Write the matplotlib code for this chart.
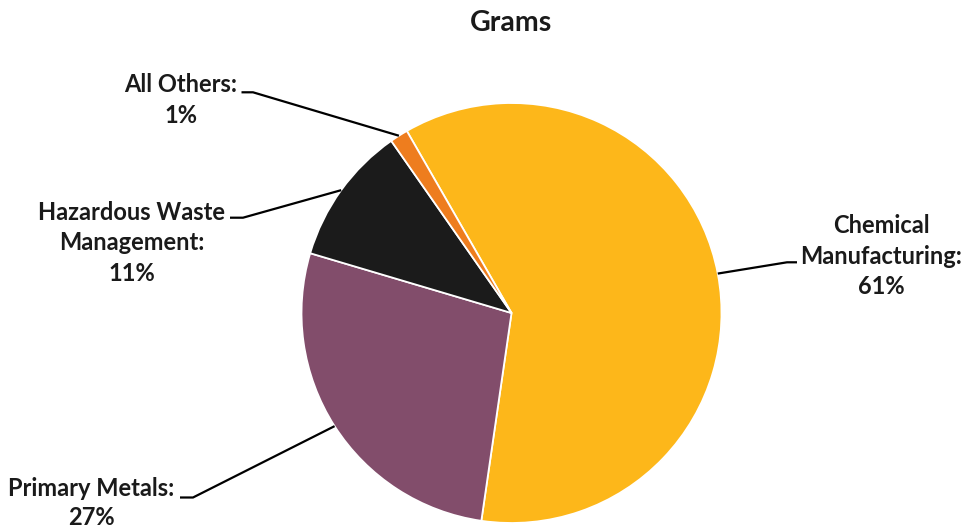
import matplotlib
matplotlib.use("Agg")
import matplotlib.pyplot as plt
import numpy as np

# Share of grams by industry sector
categories = ["Chemical\nManufacturing", "Primary Metals", "Hazardous Waste\nManagement", "All Others"]
shares = [60.6, 27.3, 10.7, 1.4]
colors = ["#FDB71A", "#824D6B", "#1B1B1B", "#EE7D1E"]

W, H = 964, 531
CX, CY, R = 511.5, 313.0, 210.0


def px(x, y):
    """Convert pixel position to axes data units (pie radius = 1)."""
    return ((x - CX) / R, (CY - y) / R)


fig = plt.figure(figsize=(W / 100, H / 100), dpi=100)
ax = fig.add_axes([0, 0, 1, 1])

wedges, _ = ax.pie(
    shares, colors=colors, startangle=119.9, counterclock=False,
    radius=1.0, center=(0, 0), frame=True,
    wedgeprops=dict(edgecolor="white", linewidth=1.3),
)
ax.set_xlim(-CX / R, (W - CX) / R)
ax.set_ylim(-(H - CY) / R, CY / R)
ax.axis("off")

font = dict(family="Lato", weight="bold", color="#1A1A1A", fontsize=17)

# label layout: text centre, elbow point, end of horizontal stub, line spacing
layout = [
    dict(text=(881, 256), elbow=(787, 262.3), stub=(797, 262.3), ls=1.42),
    dict(text=(91, 503), elbow=(193, 497.5), stub=(180, 497.5), ls=1.3),
    dict(text=(132, 243), elbow=(243, 217.7), stub=(230, 217.7), ls=1.42),
    dict(text=(181, 100), elbow=(253, 92.3), stub=(241.5, 92.3), ls=1.42),
]

for w, cat, val, lay in zip(wedges, categories, shares, layout):
    mid = np.deg2rad((w.theta1 + w.theta2) / 2)
    start = (np.cos(mid), np.sin(mid))
    ex, ey = px(*lay["elbow"])
    sx, sy = px(*lay["stub"])
    ax.plot([start[0], ex, sx], [start[1], ey, sy], color="black", lw=1.6,
            solid_capstyle="butt", zorder=3)
    tx, ty = px(*lay["text"])
    ax.text(tx, ty, f"{cat}:\n{val:.0f}%", ha="center", va="center",
            linespacing=lay["ls"], **font)

tx, ty = px(511, 23)
ax.text(tx, ty, "Grams", ha="center", va="center", family="Lato",
        weight="bold", color="#1A1A1A", fontsize=20.5)

fig.savefig("out.png", dpi=100, facecolor="white")
